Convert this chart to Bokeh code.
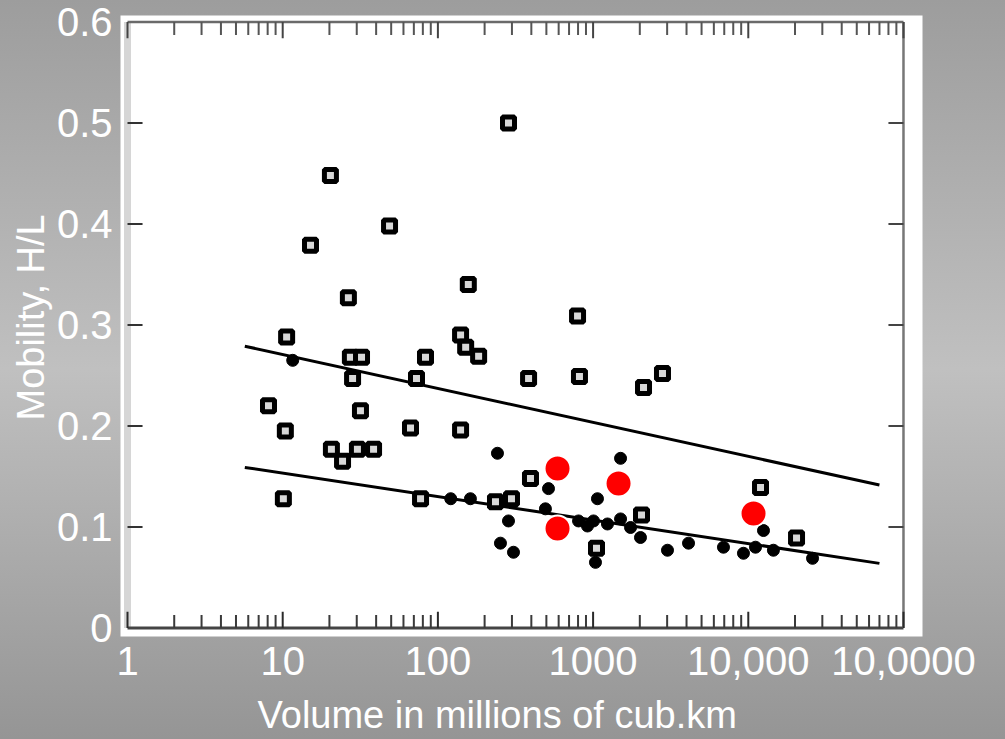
from bokeh.plotting import figure
from bokeh.models import FixedTicker, Range1d, Title
from bokeh.embed import file_html
from bokeh.resources import INLINE

# ---------------- data ----------------
# open squares (volume, mobility)
sq_vol = [285, 20.3, 15.1, 48.8, 26.5, 157, 10.6, 140, 151, 183, 794, 27.3, 32.2, 28.2,
          83.2, 72.8, 384, 817, 2113, 2800, 8.1, 10.4, 31.7, 66.6, 140, 20.6, 24.3, 30.3,
          38.5, 10.1, 77.3, 235, 395, 298, 1052, 2050, 11990, 20460]
sq_mob = [0.50, 0.448, 0.379, 0.398, 0.327, 0.340, 0.288, 0.290, 0.278, 0.269, 0.309, 0.268,
          0.268, 0.247, 0.268, 0.247, 0.247, 0.249, 0.238, 0.252, 0.220, 0.195, 0.215, 0.198,
          0.196, 0.177, 0.165, 0.177, 0.177, 0.128, 0.128, 0.125, 0.148, 0.128, 0.079, 0.112,
          0.139, 0.089]
# filled dots
dot_vol = [11.6, 242, 121, 162, 285, 253, 307, 516, 493, 1503, 1067, 920, 806, 1006, 1238,
           1503, 1743, 1036, 2020, 3016, 4120, 6920, 9310, 11130, 12530, 14520, 25940]
dot_mob = [0.265, 0.173, 0.128, 0.128, 0.106, 0.084, 0.075, 0.138, 0.118, 0.168, 0.128, 0.101,
           0.106, 0.106, 0.103, 0.108, 0.0995, 0.065, 0.0896, 0.077, 0.084, 0.080, 0.074, 0.080,
           0.0965, 0.077, 0.069]
# highlighted red points
red_vol = [590, 1459, 590, 10810]
red_mob = [0.158, 0.143, 0.0985, 0.1134]
# trend lines
fit_vol = [5.7, 70000]
upper_mob = [0.279, 0.1415]
lower_mob = [0.159, 0.064]

# axes
x_ticks = [1, 10, 100, 1000, 10000, 100000]
x_labels = ["1", "10", "100", "1000", "10,000", "10,0000"]
y_ticks = [0, 0.1, 0.2, 0.3, 0.4, 0.5, 0.6]
y_labels = ["0", "0.1", "0.2", "0.3", "0.4", "0.5", "0.6"]
minor_mult = [2, 3, 4, 5, 6, 7, 8, 9]
x_title = "Volume in millions of cub.km"
y_title = "Mobility, H/L"

FONT = "Liberation Sans"

p = figure(width=1005, height=739, x_axis_type="log",
           x_range=Range1d(0.9013, 132600), y_range=Range1d(-0.0084, 0.6064),
           output_backend="svg", toolbar_location=None,
           min_border_left=120, min_border_right=83, min_border_top=15, min_border_bottom=103)
p.styles = {"background": "linear-gradient(180deg, #9d9d9d 0%, #c0c0c0 50%, #959595 100%)"}
p.border_fill_alpha = 0
p.background_fill_color = "white"
p.outline_line_color = None
p.grid.visible = False

xa = p.xaxis[0]
xa.ticker = FixedTicker(ticks=x_ticks, minor_ticks=[])
xa.major_label_overrides = dict(zip(x_ticks, x_labels))
ya = p.yaxis[0]
ya.ticker = FixedTicker(ticks=y_ticks, minor_ticks=[])
ya.major_label_overrides = dict(zip(y_ticks, y_labels))
for ax in (xa, ya):
    ax.axis_line_color = None
    ax.major_tick_line_color = None
    ax.minor_tick_line_color = None
    ax.major_label_text_color = "white"
    ax.major_label_text_font = FONT
    ax.major_label_text_font_size = "40px"
xa.major_label_standoff = 4
ya.major_label_standoff = 2
# a blank, small axis label only adds a little space below the tick labels
xa.axis_label = " "
xa.axis_label_text_font_size = "8px"
xa.axis_label_standoff = 2

# axis titles, placed where the reference has them
p.add_layout(Title(text=x_title, align="left", offset=137, standoff=0,
                   text_color="white", text_font=FONT, text_font_size="38px",
                   text_font_style="normal"), "below")
p.add_layout(Title(text=y_title, align="left", offset=216, standoff=4,
                   text_color="white", text_font=FONT, text_font_size="38px",
                   text_font_style="normal"), "left")

# --- the scanned graph's own frame and ticks ---
x0, x1 = x_ticks[0], x_ticks[-1]
y0, y1 = y_ticks[0], y_ticks[-1]
p.segment(x0=[x0], y0=[y0], x1=[x0], y1=[y1], line_color="#d6d6d6", line_width=7)
p.segment(x0=[x0], y0=[y1], x1=[x1], y1=[y1], line_color="#6a6a6a", line_width=2.5)
p.segment(x0=[x0], y0=[y0], x1=[x1], y1=[y0], line_color="#444444", line_width=3)
p.segment(x0=[x1], y0=[y0], x1=[x1], y1=[y1], line_color="#777777", line_width=2.5)

minor_x = [m * d for d in x_ticks[:-1] for m in minor_mult]
tick_len_minor = 0.013
tick_len_major = 0.016
p.segment(x0=minor_x, y0=[y0] * len(minor_x), x1=minor_x, y1=[y0 + tick_len_minor] * len(minor_x),
          line_color="#3a3a3a", line_width=2)
p.segment(x0=x_ticks, y0=[y0] * len(x_ticks), x1=x_ticks, y1=[y0 + tick_len_major] * len(x_ticks),
          line_color="#2a2a2a", line_width=2)
p.segment(x0=minor_x, y0=[y1] * len(minor_x), x1=minor_x, y1=[y1 - tick_len_minor] * len(minor_x),
          line_color="#555555", line_width=2)
p.segment(x0=x_ticks, y0=[y1] * len(x_ticks), x1=x_ticks, y1=[y1 - tick_len_major] * len(x_ticks),
          line_color="#444444", line_width=2)
inner_y = y_ticks[1:-1]
p.segment(x0=[x0] * len(inner_y), y0=inner_y, x1=[x0 * 1.25] * len(inner_y), y1=inner_y,
          line_color="#333333", line_width=2)
p.segment(x0=[x1] * len(inner_y), y0=inner_y, x1=[x1 / 1.25] * len(inner_y), y1=inner_y,
          line_color="#444444", line_width=2)

# trend lines
p.line(fit_vol, upper_mob, line_color="black", line_width=3)
p.line(fit_vol, lower_mob, line_color="black", line_width=3)

# points
p.scatter(sq_vol, sq_mob, marker="square", size=12, line_width=5,
          line_color="black", fill_color="#d8d8d8")
p.scatter(dot_vol, dot_mob, marker="circle", size=12, line_color="black", fill_color="black")
p.scatter(red_vol, red_mob, marker="circle", size=26, fill_color="#ff0000",
          line_color="white", line_width=2)

open("out.html", "w").write(file_html(p, INLINE))
